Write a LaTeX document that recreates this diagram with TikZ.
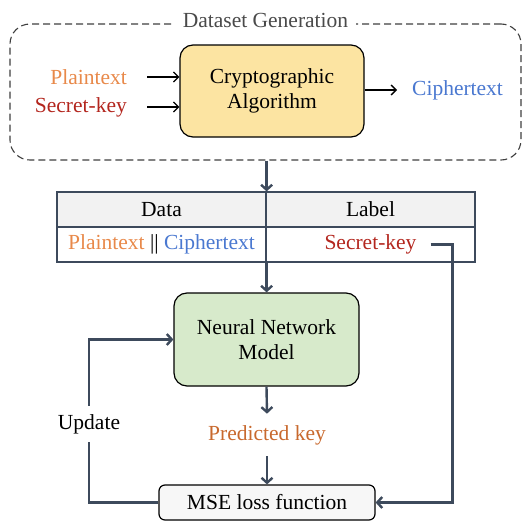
\documentclass[tikz,border=0pt]{standalone}
\usepackage{fontspec}
\setmainfont{Liberation Serif}
\usetikzlibrary{arrows.meta,positioning,matrix}
\definecolor{linkgray}{HTML}{3D4A5C}
\definecolor{dashgray}{HTML}{3F3F3F}
\definecolor{titlegray}{HTML}{4A4A4A}
\definecolor{cryptofill}{HTML}{FCE4A2}
\definecolor{nnfill}{HTML}{D7EACB}
\definecolor{headfill}{HTML}{F2F2F2}
\definecolor{msefill}{HTML}{F7F7F7}
\definecolor{plainorange}{HTML}{E8894A}
\definecolor{keyred}{HTML}{B3261E}
\definecolor{cipherblue}{HTML}{4A78D0}
\definecolor{predorange}{HTML}{C8692E}

\begin{document}
\begin{tikzpicture}[x=1pt, y=-1pt,
	every node/.style={font=\fontsize{21.5}{25}\selectfont},
	block/.style={draw=black, line width=1.2pt, rounded corners=13pt, align=center},
	group/.style={draw=dashgray, line width=1.1pt, dash pattern=on 7pt off 4pt, rounded corners=20pt},
	cell/.style={draw=linkgray, line width=1.2pt, minimum width=209pt, minimum height=35pt, inner sep=0pt},
	head/.style={cell, fill=headfill},
	feed/.style={line width=1.3pt, -{Straight Barb[length=5pt, width=10pt]}},
	link/.style={draw=linkgray, line width=2.4pt, -{Straight Barb[length=5pt, width=11pt]}}]
	\useasboundingbox (0,0) rectangle (523,522);

	\node[group, minimum width=511pt, minimum height=136pt] (gen) at (265.5,92) {};
	\node[fill=white, text=titlegray, inner xsep=8pt, inner ysep=2pt] (title) at ([yshift=3pt]gen.north) {Dataset Generation};

	\node[block, fill=cryptofill, minimum width=184pt, minimum height=92pt] (crypto) at (272,91) {Cryptographic\\Algorithm};
	\node[anchor=east, text=plainorange, inner sep=0pt] (plain) at (127,77) {Plaintext};
	\node[anchor=east, text=keyred, inner sep=0pt] (secret) at (127,107) {Secret-key};
	\node[anchor=west, text=cipherblue, inner sep=0pt] (cipher) at (412,90) {Ciphertext};

	\draw[feed] ([xshift=20pt]plain.east) -- (plain.east -| crypto.west);
	\draw[feed] ([xshift=20pt]secret.east) -- (secret.east -| crypto.west);
	\draw[feed] (crypto.east |- cipher.west) -- ([xshift=-15pt]cipher.west);

	\matrix [column sep=-1.2pt, row sep=-1.2pt] (table) at (266,227)
	{
		\node[head] (data) {Data}; &
		\node[head] (label) {Label};
		\\
		\node[cell] (pair) {\textcolor{plainorange}{Plaintext} || \textcolor{cipherblue}{Ciphertext}}; &
		\node[cell] (key) {\textcolor{keyred}{Secret-key}};
		\\
	};

	\node[block, fill=nnfill, minimum width=185pt, minimum height=93pt] (nn) at (266.5,339.5) {Neural Network\\Model};
	\node[text=predorange] (pred) at (267,435) {Predicted key};
	\node[block, fill=msefill, rounded corners=6pt, minimum width=216pt, minimum height=35pt, inner sep=0pt] (mse) at (267,502.5) {MSE loss function};

	\coordinate (loop) at (89,339.5);
	\coordinate (side) at ([xshift=-23pt]key.east);

	\draw[link] (gen.south -| data.north east) -- (data.north east);
	\draw[link] (pair.south east) -- (nn.north -| pair.south east);
	\draw[link] (nn.south) -- ([yshift=8pt]pred.north);
	\draw[link] ([yshift=-8pt]pred.south) -- (mse.north);
	\draw[link] ([xshift=-45pt]key.east) -- (side) |- (mse.east);
	\draw[link] (mse.west) -| (loop) -- (nn.west);
	\node[fill=white, inner xsep=2pt, inner ysep=8pt] (update) at (89,424) {Update};
\end{tikzpicture}
\end{document}
